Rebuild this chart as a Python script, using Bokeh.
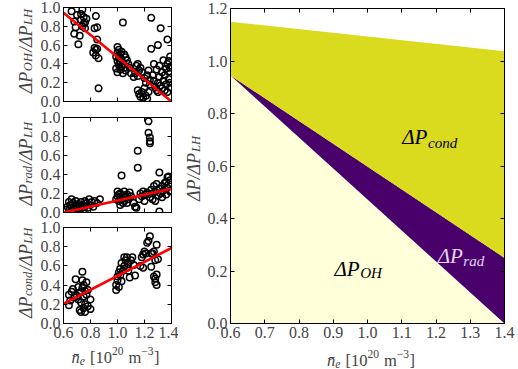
import math
from bokeh.plotting import figure
from bokeh.layouts import row, column
from bokeh.models import LinearAxis, FixedTicker, Label, ColumnDataSource, PrintfTickFormatter
from bokeh.embed import file_html
from bokeh.resources import INLINE

# ---------------- data ----------------
oh_x = [0.66, 0.74, 0.70, 0.68, 0.69, 0.68, 0.72, 0.71, 0.73, 0.75, 0.76, 0.74, 0.76, 0.73, 0.77, 0.75,
        0.84, 0.85, 0.83, 0.85, 0.83, 0.84, 0.82, 0.84, 0.85, 0.86, 0.86,
        1.00, 1.01, 1.00, 1.02, 0.99, 1.01, 1.03, 1.00, 1.02, 1.04, 1.01, 1.03, 1.05, 0.99, 1.02, 1.06,
        1.00, 1.04, 1.07, 1.08, 1.06, 1.09, 1.10, 1.03, 1.05, 1.04,
        1.25, 1.32, 1.37, 1.30, 1.25,
        1.12, 1.13, 1.14, 1.16, 1.15, 1.17, 1.18, 1.15, 1.15, 1.16, 1.17, 1.18, 1.19, 1.21, 1.22, 1.20,
        1.23, 1.24, 1.20, 1.22, 1.24, 1.26, 1.23, 1.21, 1.27, 1.28, 1.29, 1.30, 1.31, 1.30, 1.32, 1.33,
        1.34, 1.35, 1.33, 1.36, 1.37, 1.38, 1.38, 1.39, 1.36, 1.35, 1.39, 1.38, 1.39, 1.34, 1.31, 1.29,
        1.27, 1.37, 1.39]
oh_y = [0.96, 0.98, 0.92, 0.85, 0.79, 0.72, 0.70, 0.61, 0.87, 0.90, 0.84, 0.80, 0.78, 0.93, 0.88, 0.83,
        0.91, 0.79, 0.78, 0.66, 0.57, 0.55, 0.52, 0.49, 0.56, 0.46, 0.14,
        0.58, 0.55, 0.52, 0.50, 0.48, 0.46, 0.45, 0.43, 0.42, 0.40, 0.39, 0.37, 0.36, 0.35, 0.34, 0.33,
        0.31, 0.30, 0.44, 0.40, 0.47, 0.36, 0.30, 0.53, 0.50, 0.84,
        0.89, 0.78, 0.66, 0.60, 0.56,
        0.26, 0.30, 0.38, 0.33, 0.40, 0.36, 0.31, 0.27, 0.12, 0.08, 0.05, 0.10, 0.04, 0.06, 0.03, 0.14,
        0.10, 0.18, 0.25, 0.28, 0.23, 0.28, 0.33, 0.20, 0.22, 0.15, 0.12, 0.20, 0.26, 0.10, 0.17, 0.14,
        0.22, 0.28, 0.31, 0.35, 0.40, 0.32, 0.24, 0.20, 0.18, 0.12, 0.36, 0.43, 0.48, 0.44, 0.38, 0.34,
        0.40, 0.10, 0.15]

rad_x = [0.62, 0.63, 0.64, 0.65, 0.66, 0.66, 0.67, 0.68, 0.69, 0.69, 0.70, 0.71, 0.72, 0.72, 0.73,
         0.74, 0.74, 0.75, 0.76, 0.77, 0.78, 0.79, 0.80, 0.81, 0.82, 0.83, 0.85, 0.87, 0.64, 0.76,
         0.99, 1.00, 1.00, 1.01, 1.02, 1.02, 1.03, 1.03, 1.04, 1.05, 1.05, 1.06, 1.07, 1.07, 1.08,
         1.09, 1.10, 1.01, 1.04,
         1.12, 1.13, 1.14, 1.15, 1.15, 1.16, 1.17, 1.18, 1.19, 1.20, 1.21, 1.22, 1.23, 1.23, 1.24,
         1.24, 1.24, 1.24, 1.25, 1.26, 1.27, 1.28, 1.29, 1.30, 1.31, 1.31, 1.31, 1.32, 1.33, 1.34,
         1.35, 1.36, 1.37, 1.37, 1.38, 1.39, 1.39, 1.38, 1.26, 1.28, 1.33, 1.36]
rad_y = [0.03, 0.06, 0.02, 0.08, 0.14, 0.05, 0.10, 0.03, 0.12, 0.07, 0.04, 0.09, 0.02, 0.06, 0.11,
         0.05, 0.08, 0.03, 0.07, 0.10, 0.05, 0.14, 0.08, 0.11, 0.06, 0.12, 0.10, 0.14, 0.11, 0.12,
         0.14, 0.22, 0.17, 0.12, 0.20, 0.08, 0.39, 0.15, 0.18, 0.22, 0.12, 0.16, 0.10, 0.19, 0.14,
         0.21, 0.17, 0.19, 0.10,
         0.10, 0.06, 0.05, 0.65, 0.47, 0.14, 0.20, 0.17, 0.22, 0.12, 0.19, 0.21, 0.96, 0.84, 0.79,
         0.75, 0.73, 0.16, 0.24, 0.20, 0.28, 0.22, 0.30, 0.18, 0.42, 0.01, 0.25, 0.20, 0.28, 0.23,
         0.31, 0.32, 0.37, 0.26, 0.30, 0.34, 0.22, 0.38, 0.14, 0.12, 0.16, 0.19]

cond_x = [0.64, 0.64, 0.65, 0.67, 0.66, 0.69, 0.68, 0.70, 0.71, 0.72, 0.72, 0.73, 0.73, 0.74, 0.74,
          0.74, 0.75, 0.75, 0.75, 0.76, 0.76, 0.76, 0.77, 0.77, 0.78, 0.78, 0.80, 0.80, 0.73, 0.71,
          0.99, 0.99, 1.00, 1.00, 1.01, 1.02, 1.02, 1.03, 1.03, 1.04, 1.05, 1.05, 1.06, 1.07, 1.07,
          1.08, 1.08, 1.09, 1.10, 1.11, 1.12, 1.13, 1.01,
          1.17, 1.18, 1.19, 1.20, 1.21, 1.22, 1.23, 1.24, 1.25, 1.26, 1.27, 1.28, 1.25, 1.29, 1.27,
          1.28, 1.28, 1.29, 1.30, 1.29, 1.19]
cond_y = [0.19, 0.30, 0.24, 0.36, 0.33, 0.46, 0.27, 0.29, 0.25, 0.14, 0.32, 0.12, 0.22, 0.37, 0.54,
          0.45, 0.40, 0.28, 0.16, 0.12, 0.34, 0.20, 0.30, 0.43, 0.18, 0.35, 0.15, 0.25, 0.33, 0.38,
          0.35, 0.40, 0.45, 0.49, 0.53, 0.50, 0.57, 0.63, 0.44, 0.55, 0.69, 0.60, 0.66, 0.58, 0.69,
          0.62, 0.55, 0.48, 0.66, 0.69, 0.61, 0.50, 0.38,
          0.60, 0.69, 0.72, 0.75, 0.73, 0.84, 0.86, 0.91, 0.73, 0.73, 0.75, 0.66, 0.59, 0.82, 0.49,
          0.43, 0.47, 0.40, 0.67, 0.51, 0.58]

fit_x = [0.6, 1.4]
oh_fit = [0.945, 0.0]
rad_fit = [0.0, 0.25]
cond_fit = [0.205, 0.787]

left_xticks = [0.6, 0.8, 1.0, 1.2, 1.4]
left_yticks = [0.0, 0.2, 0.4, 0.6, 0.8, 1.0]
right_xticks = [0.6, 0.7, 0.8, 0.9, 1.0, 1.1, 1.2, 1.3, 1.4]
right_yticks = [0.0, 0.2, 0.4, 0.6, 0.8, 1.0, 1.2]

# label texts as (text, italic, scale, baseline shift [em], space before [em])
ylab_oh = [("ΔP", True, 1, 0, 0), ("OH", True, 0.7, -0.13, 0), ("/ΔP", True, 1, 0, 0.05),
           ("LH", True, 0.7, -0.13, 0)]
ylab_rad = [("ΔP", True, 1, 0, 0), ("rad", True, 0.7, -0.13, 0), ("/ΔP", True, 1, 0, 0.05),
            ("LH", True, 0.7, -0.13, 0)]
ylab_cond = [("ΔP", True, 1, 0, 0), ("cond", True, 0.7, -0.13, 0), ("/ΔP", True, 1, 0, 0.05),
             ("LH", True, 0.7, -0.13, 0)]
ylab_all = [("ΔP/ΔP", True, 1, 0, 0), ("LH", True, 0.7, -0.13, 0)]
xlab = [("n\u0304", True, 1, 0, 0), ("e", True, 0.7, -0.2, 0), ("[10", False, 1, 0, 0.3),
        ("20", False, 0.7, 0.42, 0), ("m", False, 1, 0, 0.3), ("\u22123", False, 0.7, 0.42, 0),
        ("]", False, 1, 0, 0.02)]
tag_cond = [("ΔP", True, 1, 0, 0), ("cond", True, 0.72, -0.25, 0)]
tag_rad = [("ΔP", True, 1, 0, 0), ("rad", True, 0.72, -0.25, 0)]
tag_oh = [("ΔP", True, 1, 0, 0), ("OH", True, 0.72, -0.2, 0)]

# ---------------- style ----------------
FONT = "Liberation Serif"
TXT = "#444444"
TICK_FS = "16px"
YLAB_PX = 18
XLAB_PX = 16.5
TAG_PX = 21

W_REG = {"0": 0.5, "1": 0.5, "2": 0.5, "3": 0.5, ".": 0.25, " ": 0.25, "/": 0.278,
         "[": 0.333, "]": 0.333, "m": 0.778, "\u2212": 0.564, "Δ": 0.613, "\u0304": 0.0}
W_IT = {"P": 0.611, "O": 0.722, "H": 0.722, "L": 0.556, "r": 0.389, "a": 0.5, "d": 0.5,
        "c": 0.444, "o": 0.5, "n": 0.5, "e": 0.444, "Δ": 0.613, "/": 0.278, "\u0304": 0.0}


def text_w(s, italic):
    tab = W_IT if italic else W_REG
    return sum(tab.get(ch, W_REG.get(ch, 0.5)) for ch in s)


def rich(p, pieces, x, y, size, vertical=False, color=TXT, font=FONT):
    lens = [(pre + text_w(t, it) * sc) * size for (t, it, sc, sh, pre) in pieces]
    adv = -sum(lens) / 2.0
    for (t, it, sc, sh, pre), ln in zip(pieces, lens):
        adv += pre * size
        shift = sh * size
        if vertical:
            xo, yo, ang = -shift, adv, math.pi / 2
        else:
            xo, yo, ang = adv, shift, 0.0
        p.add_layout(Label(x=x, y=y, x_offset=xo, y_offset=yo, angle=ang, text=t,
                           text_font=font, text_font_style="italic" if it else "normal",
                           text_font_size=f"{size * sc:.2f}px", text_align="left",
                           text_baseline="alphabetic", text_color=color))
        adv += ln - pre * size


def text_box(w, h):
    """A bare figure whose frame fills it, in pixel units, to carry axis titles."""
    p = figure(width=w, height=h, x_range=(0, w), y_range=(0, h), output_backend="svg",
               toolbar_location=None, x_axis_location=None, y_axis_location=None,
               min_border=0)
    p.xgrid.visible = False
    p.ygrid.visible = False
    p.outline_line_color = None
    p.background_fill_color = "white"
    p.border_fill_color = "white"
    return p


def silent(ax):
    ax.major_label_text_font_size = "0px"
    ax.major_label_text_color = None
    ax.major_label_standoff = 0


def frame_axes(p, xticks, yticks, show_xlabels=True):
    fmt = PrintfTickFormatter(format="%.1f")
    for ax, ticks in ((p.xaxis[0], xticks), (p.yaxis[0], yticks)):
        ax.ticker = FixedTicker(ticks=ticks)
        ax.formatter = fmt
        ax.major_tick_in = 4
        ax.major_tick_out = 0
        ax.minor_tick_line_color = None
        ax.axis_line_color = "black"
        ax.major_tick_line_color = "black"
        ax.major_label_text_font = FONT
        ax.major_label_text_font_size = TICK_FS
        ax.major_label_text_color = TXT
        ax.major_label_standoff = 3
    if not show_xlabels:
        silent(p.xaxis[0])
    for place, ticks in (("above", xticks), ("right", yticks)):
        ax = LinearAxis(ticker=FixedTicker(ticks=ticks))
        ax.major_tick_in = 4
        ax.major_tick_out = 0
        ax.minor_tick_line_color = None
        ax.axis_line_color = "black"
        silent(ax)
        p.add_layout(ax, place)
    p.xgrid.visible = False
    p.ygrid.visible = False
    p.outline_line_color = "black"
    p.background_fill_color = "white"
    p.border_fill_color = "white"


LAB_W = 36


def small_panel(xs, ys, fit, ylab, height, bottom, show_xlabels, lab_y):
    p = figure(width=178 - LAB_W, height=height, x_range=(0.6, 1.4), y_range=(0.0, 1.0),
               output_backend="svg", toolbar_location=None,
               min_border_left=63 - LAB_W, min_border_right=7, min_border_top=7,
               min_border_bottom=bottom)
    p.scatter(xs, ys, marker="circle", size=6.5, fill_color=None,
              line_color="black", line_width=1.5)
    p.line(fit_x, fit, line_color="#ff0000", line_width=2.6)
    frame_axes(p, left_xticks, left_yticks, show_xlabels)
    lab = text_box(LAB_W, height)
    rich(lab, ylab, 25.5, lab_y, YLAB_PX, vertical=True)
    return row(lab, p)


r1 = small_panel(oh_x, oh_y, oh_fit, ylab_oh, 110, 9, False, 59)
r2 = small_panel(rad_x, rad_y, rad_fit, ylab_rad, 110, 8, False, 56.5)
r3 = small_panel(cond_x, cond_y, cond_fit, ylab_cond, 125, 22, True, 66)
xl_left = text_box(178, 24)
rich(xl_left, xlab, 115, 12, XLAB_PX)

RL_W = 26
src = ColumnDataSource(dict(x=fit_x, oh=oh_fit, rad=rad_fit, cond=cond_fit))
p4 = figure(width=340 - RL_W, height=345, x_range=(0.6, 1.4), y_range=(0.0, 1.2),
            output_backend="svg", toolbar_location=None,
            min_border_left=51 - RL_W, min_border_right=14, min_border_top=8,
            min_border_bottom=22)
p4.varea_stack(stackers=["oh", "rad", "cond"], x="x",
               color=["#ffffd9", "#4a006b", "#dada1e"], source=src)
frame_axes(p4, right_xticks, right_yticks, True)

rich(p4, tag_cond, 1.182, 0.709, TAG_PX, color="black")
rich(p4, tag_rad, 1.273, 0.258, TAG_PX, color="#e0d4f0")
rich(p4, tag_oh, 0.973, 0.207, TAG_PX, color="black")

yl_right = text_box(RL_W, 369)
rich(yl_right, ylab_all, 15, 201, YLAB_PX, vertical=True)
xl_right = text_box(340 - RL_W, 24)
rich(xl_right, xlab, 165 + (22 - RL_W), 9, XLAB_PX)

layout = row(column(r1, r2, r3, xl_left), yl_right, column(p4, xl_right))
open("out.html", "w").write(file_html(layout, INLINE))
